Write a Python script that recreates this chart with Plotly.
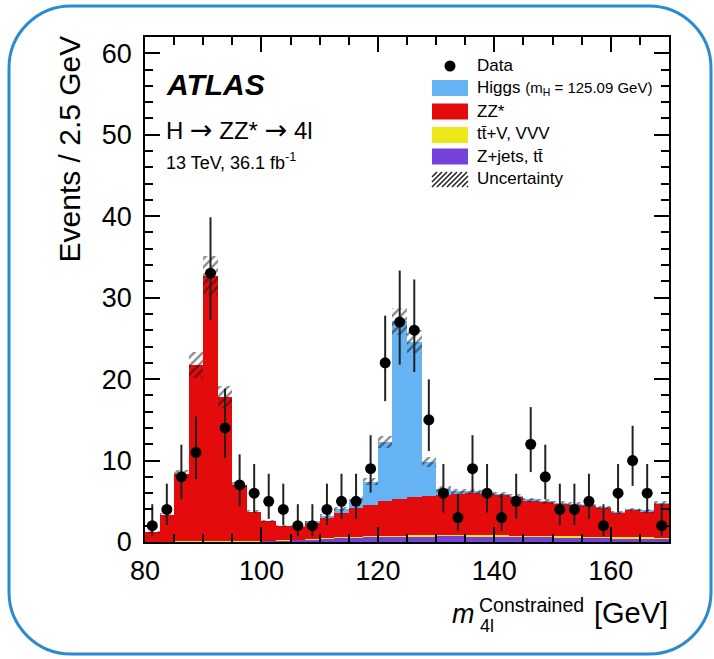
import plotly.graph_objects as go
import numpy as np

# ---------------- data ----------------
bin_centers = [81.25, 83.75, 86.25, 88.75, 91.25, 93.75, 96.25, 98.75, 101.25, 103.75,
               106.25, 108.75, 111.25, 113.75, 116.25, 118.75, 121.25, 123.75, 126.25, 128.75,
               131.25, 133.75, 136.25, 138.75, 141.25, 143.75, 146.25, 148.75, 151.25, 153.75,
               156.25, 158.75, 161.25, 163.75, 166.25, 168.75]
bin_width = 2.5

zjets = [0.03, 0.04, 0.06, 0.08, 0.10, 0.10, 0.10, 0.10, 0.13, 0.18, 0.26, 0.36, 0.45, 0.52,
         0.58, 0.63, 0.68, 0.70, 0.72, 0.73, 0.74, 0.74, 0.73, 0.72, 0.70, 0.68, 0.65, 0.62,
         0.59, 0.56, 0.53, 0.50, 0.47, 0.45, 0.42, 0.40]
ttv = [0.01, 0.01, 0.02, 0.03, 0.04, 0.03, 0.02, 0.02, 0.02, 0.02, 0.03, 0.03, 0.04, 0.05,
       0.06, 0.07, 0.08, 0.08, 0.09, 0.09, 0.10, 0.10, 0.10, 0.11, 0.11, 0.11, 0.12, 0.12,
       0.12, 0.13, 0.13, 0.13, 0.13, 0.14, 0.14, 0.14]
zz = [1.21, 3.25, 8.22, 21.59, 32.56, 17.67, 6.88, 3.58, 2.45, 1.80, 1.61, 2.01, 2.51, 3.03,
      3.56, 3.90, 4.24, 4.52, 4.69, 4.88, 4.96, 5.01, 5.22, 5.12, 4.99, 4.76, 4.38, 4.21,
      4.04, 3.96, 3.79, 3.62, 3.05, 3.36, 3.24, 4.21]
higgs = [0, 0, 0, 0, 0, 0, 0, 0, 0, 0, 0.02, 0.08, 0.2, 0.45, 1.1, 2.8, 7.3, 21.8, 19.1, 4.1,
         0.7, 0.4, 0.15, 0.1, 0.05, 0.03, 0.02, 0.02, 0.01, 0.01, 0.01, 0.01, 0.01, 0.01, 0.01, 0.01]
unc = [0.1, 0.2, 0.5, 1.6, 2.4, 1.3, 0.4, 0.2, 0.15, 0.12, 0.12, 0.15, 0.2, 0.25, 0.3, 0.4,
       0.7, 1.65, 1.4, 0.6, 0.35, 0.3, 0.3, 0.3, 0.3, 0.28, 0.26, 0.25, 0.24, 0.23, 0.22, 0.22,
       0.2, 0.2, 0.2, 0.25]

data = [2, 4, 8, 11, 33, 14, 7, 6, 5, 4, 2, 2, 4, 5, 5, 9, 22, 27, 26, 15,
        6, 3, 9, 6, 3, 5, 12, 8, 4, 4, 5, 2, 6, 10, 6, 2]
data_err_up = [2.64, 3.16, 3.95, 4.42, 6.87, 4.83, 3.77, 3.58, 3.38, 3.16, 2.64, 2.64, 3.16, 3.38,
               3.38, 4.11, 5.79, 6.33, 6.23, 4.96, 3.58, 2.92, 4.11, 3.58, 2.92, 3.38, 4.56, 3.95,
               3.16, 3.16, 3.38, 2.64, 3.58, 4.27, 3.58, 2.64]
data_err_dn = [1.29, 1.91, 2.77, 3.27, 5.76, 3.70, 2.58, 2.38, 2.16, 1.91, 1.29, 1.29, 1.91, 2.16,
               2.16, 2.94, 4.70, 5.23, 5.13, 3.83, 2.38, 1.63, 2.94, 2.38, 1.63, 2.16, 3.42, 2.77,
               1.91, 1.91, 2.16, 1.29, 2.38, 3.11, 2.38, 1.29]

x_ticks = [80, 100, 120, 140, 160]
y_ticks = [0, 10, 20, 30, 40, 50, 60]

# ---------------- colours ----------------
C_HIGGS = "#66b3f4"
C_ZZ = "#e30b0b"
C_TTV = "#ece81a"
C_ZJ = "#7442d8"
FONT = "Liberation Sans"

# ---------------- geometry (screen pixels; body margin removed by post_script) ----------------
FIG_W, FIG_H = 714, 659
L, R, T, B = 145, 669, 37, 542          # plot area in screen pixels
W, H = R - L, B - T


def px(x):
    return (x - L) / W


def py(y):
    return (B - y) / H


fig = go.Figure()

base = np.zeros(len(bin_centers))
for vals, col, name in [(zjets, C_ZJ, "Z+jets, tt̄"), (ttv, C_TTV, "tt̄+V, VVV"),
                        (zz, C_ZZ, "ZZ*"), (higgs, C_HIGGS, "Higgs")]:
    fig.add_trace(go.Bar(x=bin_centers, y=vals, base=base.copy(), width=bin_width,
                         marker=dict(color=col, line=dict(width=0)), name=name,
                         hoverinfo="skip"))
    base = base + np.array(vals)

total = base
unc_arr = np.array(unc)
fig.add_trace(go.Bar(x=bin_centers, y=2 * unc_arr, base=total - unc_arr, width=bin_width,
                     marker=dict(color="rgba(0,0,0,0)", line=dict(width=0),
                                 pattern=dict(shape="/", fgcolor="#111111", size=6,
                                              solidity=0.4, fillmode="overlay")),
                     name="Uncertainty", hoverinfo="skip"))

fig.add_trace(go.Scatter(x=bin_centers, y=data, mode="markers", name="Data",
                         marker=dict(color="black", size=11),
                         error_y=dict(type="data", symmetric=False, array=data_err_up,
                                      arrayminus=data_err_dn, color="#222222",
                                      thickness=2, width=0)))

axis_common = dict(showgrid=False, zeroline=False, showline=True, linecolor="black",
                   linewidth=1.5, mirror="ticks", ticks="inside", tickwidth=1.5,
                   tickcolor="black", ticklen=15,
                   tickfont=dict(family=FONT, size=27, color="black"))

fig.update_layout(
    width=FIG_W, height=FIG_H,
    margin=dict(l=L, r=FIG_W - R, t=T, b=FIG_H - B),
    paper_bgcolor="white", plot_bgcolor="white",
    barmode="overlay", bargap=0, showlegend=False,
    xaxis=dict(range=[80, 170], tickvals=x_ticks, ticktext=[str(v) for v in x_ticks],
               minor=dict(dtick=5, tick0=80, ticks="inside", ticklen=8, tickwidth=1.5,
                          tickcolor="black"),
               ticklabelstandoff=4, **axis_common),
    yaxis=dict(range=[0, 62], tickvals=y_ticks, ticktext=[str(v) for v in y_ticks],
               minor=dict(dtick=2, tick0=0, ticks="inside", ticklen=8, tickwidth=1.5,
                          tickcolor="black"),
               ticklabelstandoff=6, **axis_common),
)

ann = []


def text(x, y, s, size, xanchor="left", yanchor="middle", **kw):
    ann.append(dict(xref="paper", yref="paper", x=px(x), y=py(y), text=s, showarrow=False,
                    xanchor=xanchor, yanchor=yanchor,
                    font=dict(family=FONT, size=size, color="black"), **kw))


ARROW = "<span style='font-family:DejaVu Sans;font-size:27px'>→</span>"

# axis titles
text(69, 34, "Events / 2.5 GeV", 30, xanchor="center", yanchor="top", textangle=-90)
text(477, 614, "<i>m</i>", 27, xanchor="right")
text(477, 605, "Constrained", 19.5)
text(478, 626, "4l", 18)
text(670, 613, "[GeV]", 29, xanchor="right")

# ATLAS labels
text(164, 85, "<b><i>ATLAS</i></b>", 30)
text(164, 129, f"H {ARROW} ZZ* {ARROW} 4l", 24)
text(164, 161, "13 TeV, 36.1 fb<sup>-1</sup>", 18)

# legend
leg_rows = [("Data", 65), ("Higgs <span style='font-size:15px'>(m<sub>H</sub> = 125.09 GeV)</span>", 88),
            ("ZZ*", 111), ("tt̄+V, VVV", 134), ("Z+jets, tt̄", 156), ("Uncertainty", 178)]
for s, yy in leg_rows:
    text(475, yy, s, 17)

shapes = []
# data dot
r = 5.5
shapes.append(dict(type="circle", xref="paper", yref="paper", x0=px(450 - r), x1=px(450 + r),
                   y0=py(66 + r), y1=py(66 - r), fillcolor="black", line=dict(width=0)))
for col, yc in [(C_HIGGS, 88), (C_ZZ, 111.5), (C_TTV, 135), (C_ZJ, 156.5)]:
    shapes.append(dict(type="rect", xref="paper", yref="paper", x0=px(432), x1=px(468),
                       y0=py(yc + 8), y1=py(yc - 8), fillcolor=col, line=dict(width=0)))
# hatch symbol
hx0, hx1, hy0, hy1 = 432, 468, 172, 187
path = ""
for k in range(-15, 40, 5):
    xa, ya = hx0 + k, hy1
    xb, yb = hx0 + k + (hy1 - hy0), hy0
    if xa < hx0:
        ya = hy1 - (hx0 - xa)
        xa = hx0
    if xb > hx1:
        yb = hy0 + (xb - hx1)
        xb = hx1
    if xa >= hx1 or xb <= hx0:
        continue
    path += f"M{px(xa):.5f},{py(ya):.5f} L{px(xb):.5f},{py(yb):.5f} "
shapes.append(dict(type="path", xref="paper", yref="paper", path=path,
                   line=dict(color="#222222", width=1.5)))

# rounded blue frame around the image
bx0, bx1, by0, by1, rr = 9, 711, 6, 654, 62
k = 0.5523 * rr


def P(x, y):
    return f"{px(x):.5f},{py(y):.5f}"


frame = (f"M{P(bx0 + rr, by0)} L{P(bx1 - rr, by0)} "
         f"C{P(bx1 - rr + k, by0)} {P(bx1, by0 + rr - k)} {P(bx1, by0 + rr)} "
         f"L{P(bx1, by1 - rr)} "
         f"C{P(bx1, by1 - rr + k)} {P(bx1 - rr + k, by1)} {P(bx1 - rr, by1)} "
         f"L{P(bx0 + rr, by1)} "
         f"C{P(bx0 + rr - k, by1)} {P(bx0, by1 - rr + k)} {P(bx0, by1 - rr)} "
         f"L{P(bx0, by0 + rr)} "
         f"C{P(bx0, by0 + rr - k)} {P(bx0 + rr - k, by0)} {P(bx0 + rr, by0)} Z")
shapes.append(dict(type="path", xref="paper", yref="paper", path=frame,
                   line=dict(color="#2b8ad0", width=3)))

fig.update_layout(annotations=ann, shapes=shapes)
fig.write_html("out.html", config={"displayModeBar": False},
               post_script="document.body.style.margin='0';document.body.style.overflow='hidden';")
